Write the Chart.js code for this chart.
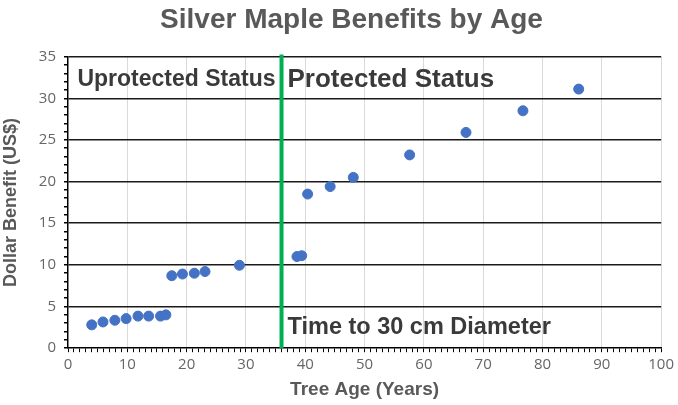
<!DOCTYPE html>
<html>
<head>
<meta charset="utf-8">
<script src="https://cdn.jsdelivr.net/npm/chart.js@4"></script>
<style>
  html, body { margin: 0; padding: 0; background: #fff; }
  #wrap { width: 678px; height: 405px; }
</style>
</head>
<body>
<div id="wrap"><canvas id="myChart" width="678" height="405"></canvas></div>
<script>
// tree age (years) and benefit (US$)
var treeAge = [4, 5.9, 7.9, 9.8, 11.8, 13.6, 15.6, 16.5, 17.5, 19.3, 21.3, 23.1, 28.9,
               38.6, 39.4, 40.4, 44.2, 48.1, 57.6, 67.1, 76.7, 86.1];
var benefit = [2.8, 3.15, 3.35, 3.55, 3.85, 3.85, 3.85, 4.0, 8.7, 8.9, 9.0, 9.2, 9.95,
               11.0, 11.1, 18.5, 19.4, 20.5, 23.2, 25.9, 28.5, 31.1];
var diameterAge = 36;   // age at 30 cm diameter

var points = treeAge.map(function (a, i) { return { x: a, y: benefit[i] }; });

var boldFont = '"Liberation Sans", Arial, sans-serif';
var tickFont = '"Open Sans", "Liberation Sans", sans-serif';

// green line + the three text labels
var overlay = {
  id: 'overlay',
  afterLayout: function (chart) {
    // title sits a bit right of the canvas centre in the original
    if (chart.titleBlock) chart.titleBlock.left += 28;
  },
  afterDatasetsDraw: function (chart) {
    var c = chart.ctx, x = chart.scales.x, y = chart.scales.y;
    var lx = x.getPixelForValue(diameterAge);
    c.save();
    c.strokeStyle = '#00B050';
    c.lineWidth = 4;
    c.beginPath();
    c.moveTo(lx, y.getPixelForValue(35) - 2);
    c.lineTo(lx, y.getPixelForValue(0));
    c.stroke();

    c.fillStyle = '#3a3a3a';
    c.textBaseline = 'middle';
    c.font = 'bold 23px ' + boldFont;
    c.textAlign = 'right';
    c.fillText('Uprotected Status', lx - 6, y.getPixelForValue(32.2));
    c.textAlign = 'left';
    c.font = 'bold 26px ' + boldFont;
    c.fillText('Protected Status', lx + 6, y.getPixelForValue(32.2));
    c.font = 'bold 23.5px ' + boldFont;
    c.fillText('Time to 30 cm Diameter', lx + 6, y.getPixelForValue(2.5));
    c.restore();
  }
};

var ctx = document.getElementById("myChart");
var myChart = new Chart(ctx, {
  type: 'scatter',
  data: {
    datasets: [{
      data: points,
      backgroundColor: '#4472C4',
      borderColor: '#4472C4',
      pointRadius: 5,
      pointHoverRadius: 5
    }]
  },
  options: {
    responsive: false,
    animation: false,
    layout: { padding: { left: 0, right: 3, top: 0, bottom: 4 } },
    plugins: {
      legend: { display: false },
      tooltip: { enabled: false },
      title: {
        display: true,
        text: 'Silver Maple Benefits by Age',
        color: '#595959',
        font: { family: boldFont, size: 28, weight: 'bold' },
        padding: { top: 3, bottom: 20 }
      }
    },
    scales: {
      x: {
        type: 'linear',
        min: 0,
        max: 100,
        afterBuildTicks: function (s) {
          s.ticks = [];
          for (var v = 0; v <= 100; v++) s.ticks.push({ value: v });
        },
        ticks: {
          autoSkip: false,
          maxRotation: 0,
          color: '#666666',
          font: { family: tickFont, size: 15 },
          padding: 4,
          callback: function (v) { return v % 10 === 0 ? String(v) : ''; }
        },
        grid: {
          color: function (c) { return c.tick && c.tick.value % 10 === 0 && c.tick.value > 0 ? '#d9d9d9' : 'rgba(0,0,0,0)'; },
          lineWidth: 1,
          tickColor: '#000',
          tickLength: 4
        },
        border: { color: '#000', width: 1.5 },
        title: {
          display: true,
          text: 'Tree Age (Years)',
          color: '#595959',
          font: { family: boldFont, size: 19, weight: 'bold' },
          padding: { top: 0, bottom: 0 }
        }
      },
      y: {
        min: 0,
        max: 35,
        afterBuildTicks: function (s) {
          s.ticks = [];
          for (var v = 0; v <= 35; v++) s.ticks.push({ value: v });
        },
        afterFit: function (s) { s.width = 68; },
        ticks: {
          autoSkip: false,
          color: '#666666',
          font: { family: tickFont, size: 15 },
          padding: 8,
          callback: function (v) { return v % 5 === 0 ? String(v) : ''; }
        },
        grid: {
          color: function (c) { return c.tick && c.tick.value % 5 === 0 && c.tick.value > 0 ? '#1a1a1a' : 'rgba(0,0,0,0)'; },
          lineWidth: 1.5,
          tickColor: '#000',
          tickLength: 4
        },
        border: { color: '#000', width: 1.5 },
        title: {
          display: true,
          text: 'Dollar Benefit (US$)',
          color: '#595959',
          font: { family: boldFont, size: 18, weight: 'bold' },
          padding: { top: 0, bottom: 2 }
        }
      }
    }
  },
  plugins: [overlay]
});
</script>
</body>
</html>
